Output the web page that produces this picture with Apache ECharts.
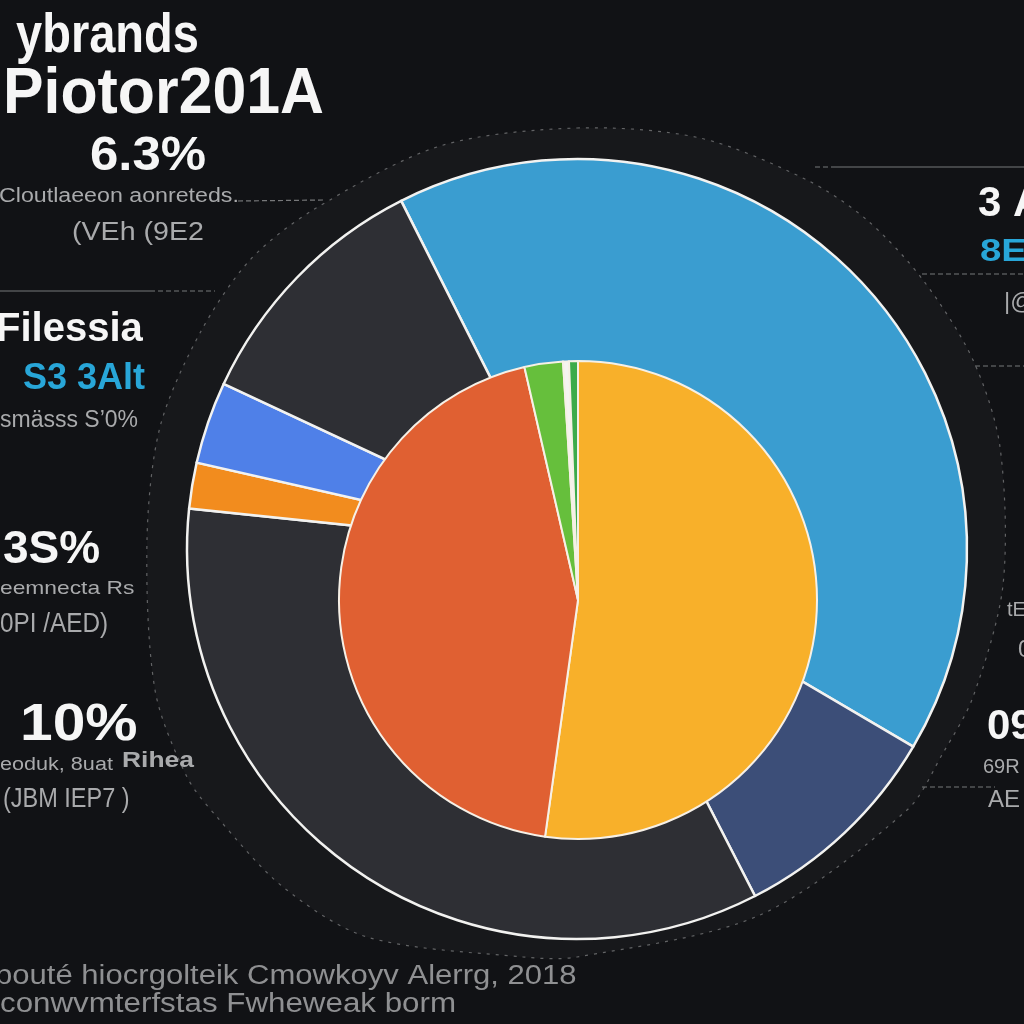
<!DOCTYPE html>
<html>
<head>
<meta charset="utf-8">
<style>
  html, body { margin: 0; padding: 0; background: #111215; }
  #chart { width: 1024px; height: 1024px; }
</style>
<script src="https://cdn.jsdelivr.net/npm/echarts@6/dist/echarts.min.js"></script>
</head>
<body>
<div id="chart"></div>
<script>
// outer ring, share in percent, clockwise from the blue slice
const outerNames = ['Blue', 'Navy', 'Dark', 'Orange', 'Bright blue', 'Dark 2'];
const outerValues = [40.9, 9.0, 34.2, 1.9, 3.4, 10.6];
const outerColors = ['#3a9dd0', '#3c4e78', '#2e2f34', '#f28c1e', '#4f80e8', '#2e2f34'];

// inner pie, clockwise from the top
const innerNames = ['Yellow', 'Red', 'Green', 'White', 'Dark green'];
const innerValues = [52.2, 44.2, 2.6, 0.4, 0.6];
const innerColors = ['#f8b02a', '#e06032', '#66bf3c', '#f4f4f0', '#3cab4a'];

const titleLines = ['ybrands', 'Piotor201A'];
const footLines = ['bouté hiocrgolteik Cmowkoyv Alerrg, 2018', 'conwvmterfstas Fwheweak borm'];
const leftTexts = ['6.3%', 'Cloutlaeeon aonreteds.', '(VEh (9E2', 'Filessia', 'S3 3Alt', 'smässs S’0%',
  '3S%', 'eemnecta Rs', '(0PI /AED)', '10%', 'eoduk, 8uat', 'Rihea', '(JBM IEP7 )'];
const rightTexts = ['3 A', '8E', '|@', 'tE', '0', '09', '69R', 'AE'];

const WHITE = '#f6f6f6';
const GRAY = '#a9aaac';
const CYAN = '#28a6d8';

// sx squeezes or stretches the text to the width seen in the picture
function label(text, x, y, size, fill, weight, sx) {
  return {
    type: 'text', z: 20, x: x, y: y, scaleX: sx || 1,
    style: {
      text: text, fill: fill,
      font: (weight || 'normal') + ' ' + size + 'px "Liberation Sans", sans-serif',
      textVerticalAlign: 'middle'
    }
  };
}

function leader(x1, y1, x2, y2, dash) {
  return {
    type: 'line', z: 5,
    shape: { x1: x1, y1: y1, x2: x2, y2: y2 },
    style: { stroke: '#77787a', lineWidth: 1.2, lineDash: dash ? [5, 3] : null }
  };
}

// the dotted outline around the ring is a bit lopsided in the reference
const ringOutline = [
  [577, 128], [700, 138], [807, 180], [867, 220], [923, 280], [973, 360], [1000, 447], [1003, 585],
  [973, 697], [943, 753], [907, 810], [760, 915], [577, 957], [523, 957], [367, 937], [283, 887],
  [217, 817], [187, 777], [155, 690], [147, 540], [160, 427], [200, 333], [250, 260], [313, 210], [440, 146]
];

const graphics = [
  { type: 'polygon', z: 0, shape: { points: ringOutline, smooth: 0.3 }, style: { fill: '#17181b' } },
  { type: 'polygon', z: 1, shape: { points: ringOutline, smooth: 0.3 },
    style: { fill: 'none', stroke: '#626365', lineWidth: 1.2, lineDash: [3, 6] } },
  leader(238, 201, 325, 200, true),
  leader(0, 291, 150, 291),
  leader(150, 291, 215, 291, true),
  leader(815, 167, 835, 167, true),
  leader(835, 167, 1024, 167),
  leader(922, 274, 1024, 274, true),
  leader(975, 366, 1024, 366, true),
  leader(922, 787, 995, 787, true),

  label(titleLines[0], 16, 37, 56, WHITE, 'bold', 0.84),
  label(titleLines[1], 3, 95, 64, WHITE, 'bold', 0.95),
  label(leftTexts[0], 90, 156, 49, WHITE, 'bold', 1.04),
  label(leftTexts[1], -1, 196, 20, GRAY, 'normal', 1.16),
  label(leftTexts[2], 72, 233, 26, GRAY, 'normal', 1.1),
  label(leftTexts[3], -4, 330, 40, WHITE, 'bold'),
  label(leftTexts[4], 23, 379, 36, CYAN, 'bold'),
  label(leftTexts[5], 0, 421, 23, GRAY),
  label(leftTexts[6], 3, 550, 46, WHITE, 'bold'),
  label(leftTexts[7], 0, 589, 19, GRAY, 'normal', 1.2),
  label(leftTexts[8], -8, 625, 27, GRAY, 'normal', 0.9),
  label(leftTexts[9], 20, 726, 52, WHITE, 'bold', 1.13),
  label(leftTexts[10], 0, 765, 18, GRAY, 'normal', 1.2),
  label(leftTexts[11], 122, 761, 22, GRAY, 'bold', 1.2),
  label(leftTexts[12], 3, 800, 27, GRAY, 'normal', 0.87),

  label(rightTexts[0], 978, 204, 42, WHITE, 'bold'),
  label(rightTexts[1], 980, 252, 32, CYAN, 'bold', 1.2),
  label(rightTexts[2], 1004, 302, 24, GRAY),
  label(rightTexts[3], 1007, 610, 20, GRAY),
  label(rightTexts[4], 1018, 650, 24, GRAY),
  label(rightTexts[5], 987, 727, 42, WHITE, 'bold'),
  label(rightTexts[6], 983, 767, 20, GRAY),
  label(rightTexts[7], 988, 800, 24, GRAY),

  label(footLines[0], -5, 977, 27, '#8f9092', 'normal', 1.15),
  label(footLines[1], 0, 1005, 27, '#8f9092', 'normal', 1.16)
];

function pieData(names, values, colors) {
  return names.map(function (name, i) {
    return { name: name, value: values[i], itemStyle: { color: colors[i] } };
  });
}

const chart = echarts.init(document.getElementById('chart'));
chart.setOption({
  animation: false,
  backgroundColor: '#111215',
  graphic: graphics,
  series: [
    {
      type: 'pie', z: 10, center: [577, 549], radius: [0, 390], startAngle: 116.8,
      label: { show: false }, labelLine: { show: false }, silent: true,
      itemStyle: { borderColor: '#f2f2f0', borderWidth: 2.5 },
      data: pieData(outerNames, outerValues, outerColors)
    },
    {
      type: 'pie', z: 11, center: [578, 600], radius: [0, 239], startAngle: 90,
      label: { show: false }, labelLine: { show: false }, silent: true,
      itemStyle: { borderColor: '#f6f0e6', borderWidth: 2 },
      data: pieData(innerNames, innerValues, innerColors)
    }
  ]
});
</script>
</body>
</html>
